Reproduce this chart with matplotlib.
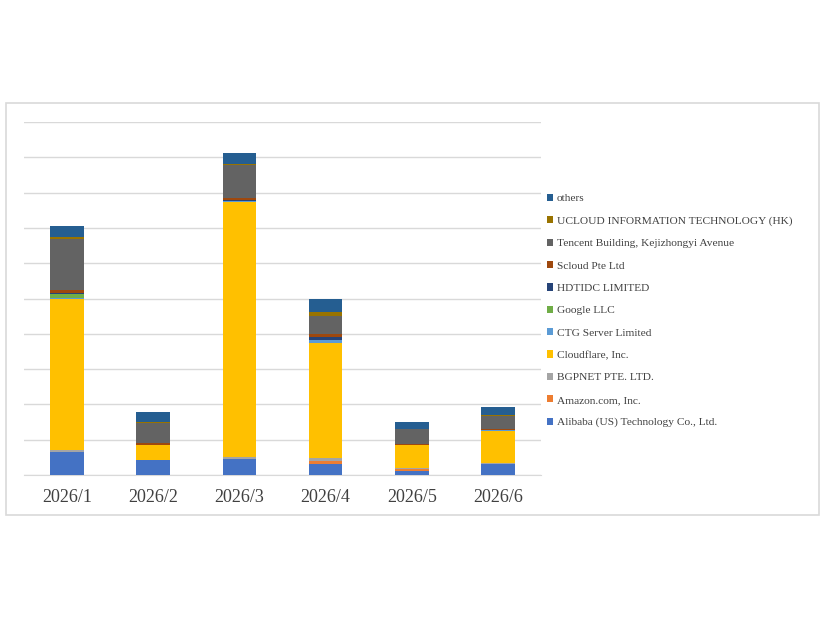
import numpy as np
import matplotlib
matplotlib.use('Agg')
import matplotlib.pyplot as plt
from matplotlib.patches import Rectangle

months = ['2026/1', '2026/2', '2026/3', '2026/4', '2026/5', '2026/6']

alibaba = [64, 42, 45, 31, 11, 32]
amazon = [0, 0, 0, 9, 6, 0]
bgpnet = [8, 1, 7, 7, 2, 3]
cloudflare = [427, 43, 720, 327, 66, 89]
ctg = [2, 0, 5, 9, 0, 4]
google = [11, 0, 0, 0, 0, 0]
hdtidc = [3, 0, 2, 8, 0, 0]
scloud = [8, 5, 6, 8, 3, 1]
tencent = [145, 57, 92, 51, 41, 38]
ucloud = [6, 2, 5, 11, 2, 3]
others = [32, 29, 31, 37, 18, 24]

series = [
    ('Alibaba (US) Technology Co., Ltd.', alibaba, '#4472C4'),
    ('Amazon.com, Inc.', amazon, '#ED7D31'),
    ('BGPNET PTE. LTD.', bgpnet, '#A5A5A5'),
    ('Cloudflare, Inc.', cloudflare, '#FFC000'),
    ('CTG Server Limited', ctg, '#5B9BD5'),
    ('Google LLC', google, '#70AD47'),
    ('HDTIDC LIMITED', hdtidc, '#264478'),
    ('Scloud Pte Ltd', scloud, '#9E480E'),
    ('Tencent Building, Kejizhongyi Avenue', tencent, '#636363'),
    ('UCLOUD INFORMATION TECHNOLOGY (HK)', ucloud, '#997300'),
    ('others', others, '#255E91'),
]

plt.rcParams['font.family'] = ['Liberation Serif', 'DejaVu Serif']

fig = plt.figure(figsize=(8.26, 6.2), dpi=100)
# outer chart frame
fig.patches.append(Rectangle((6 / 826, 105 / 620), 813 / 826, 412 / 620,
                             transform=fig.transFigure, fill=False,
                             edgecolor='#d9d9d9', linewidth=1.2))

ax = fig.add_axes([24 / 826, 145 / 620, 517 / 826, 353 / 620])
x = np.arange(len(months))
bottom = np.zeros(len(months))
for name, vals, color in series:
    ax.bar(x, vals, 0.39, bottom=bottom, color=color, label=name, zorder=3)
    bottom += np.array(vals)

ax.set_xlim(-0.5, len(months) - 0.5)
ax.set_ylim(0, 1000)
ax.set_yticks(np.arange(0, 1001, 100))
ax.yaxis.grid(True, color='#d9d9d9', linewidth=1, zorder=0)
ax.set_yticklabels([])
ax.set_xticks(x)
ax.set_xticklabels(months, fontsize=13, color='#404040')
ax.tick_params(length=0, pad=10)
for s in ['top', 'right', 'left']:
    ax.spines[s].set_visible(False)
ax.spines['bottom'].set_color('#d9d9d9')

handles, labels = ax.get_legend_handles_labels()
leg = fig.legend(handles[::-1], labels[::-1], loc='center left',
                 bbox_to_anchor=(542 / 826, 309.5 / 620), frameon=False,
                 fontsize=8.2, labelspacing=1.12, handlelength=0.6,
                 handleheight=0.6, handletextpad=0.3, borderaxespad=0)
for t in leg.get_texts():
    t.set_color('#404040')

fig.savefig('out.png', dpi=100)
